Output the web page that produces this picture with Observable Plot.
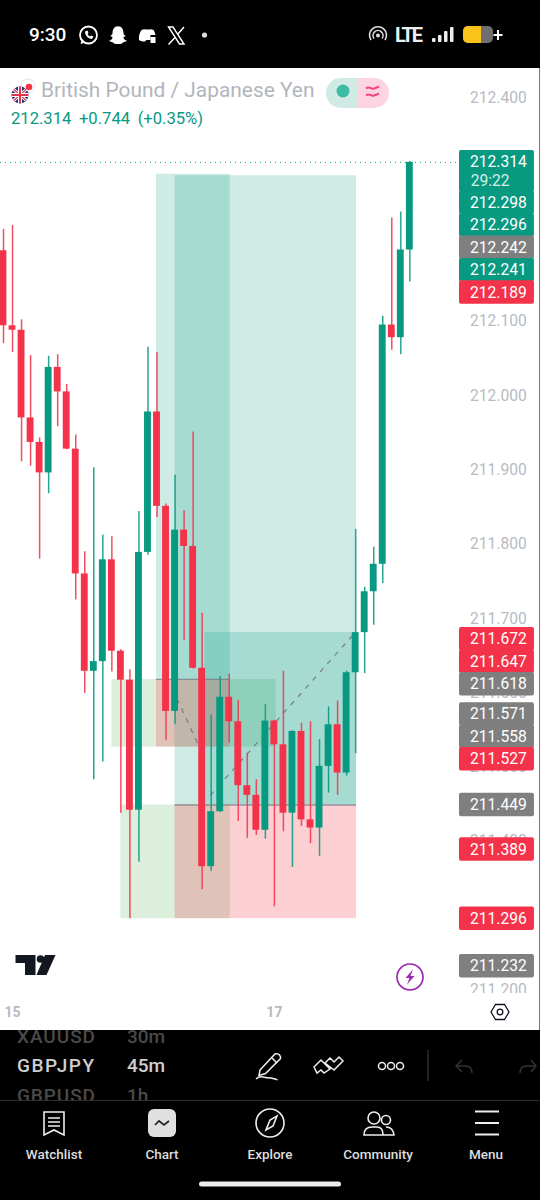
<!DOCTYPE html>
<html>
<head>
<meta charset="utf-8">
<script src="https://cdn.jsdelivr.net/npm/d3@7"></script>
<script src="https://cdn.jsdelivr.net/npm/@observablehq/plot@0.6"></script>
<style>
html,body{margin:0;padding:0;background:#000}
#page{position:relative;width:540px;height:1200px;overflow:hidden;background:#000;font-family:Roboto,sans-serif}
#chart{position:absolute;left:0;top:68px;width:540px;height:962px;background:#fff}
#chart svg{display:block}
.abs{position:absolute}
#title{left:41px;top:76px;font-size:20.9px;line-height:28px;color:#b2b5be;white-space:nowrap}
#quote{left:11px;top:109px;font-size:16.6px;line-height:20px;color:#089981;white-space:nowrap;word-spacing:3.500px}
</style>
</head>
<body>
<div id="page">
  <svg class="abs" style="left:0;top:0" width="540" height="68" viewBox="0 0 540 68" font-family="Roboto">
    <text x="29" y="41" fill="#fff" font-size="19" font-weight="500">9:30</text>
    <circle cx="88.500" cy="35" r="8.500" fill="none" stroke="#fff" stroke-width="1.800"/>
    <path d="M80.500 44l1.500-5 3.500 3.500z" fill="#fff"/>
    <path d="M85 31.500c0 4 3 7 7 7.500l1.500-2.500-2.500-1-1 1c-1-.5-2-1.500-2.500-2.500l1-1-1-2.500z" fill="#fff"/>
    <path d="M109 40.500c2.500 0 3.500-2 3.500-3.500-1-.5-2.500-1-2-1.800 1.200 0 2-.5 2-2 0-3.500 1.500-7 5.500-7s5.500 3.500 5.500 7c0 1.500.8 2 2 2 .5.8-1 1.300-2 1.800 0 1.500 1 3.500 3.500 3.500-1 1.500-2.500 1-4 2-1 1-2 1.500-5 1.500s-4-.5-5-1.500c-1.500-1-3-.5-4-2z" fill="#fff"/>
    <path d="M139 40c-.5-4 .5-7 2.500-10 2-.8 3-1 3.500-.5h5c.5-.5 1.500-.3 3.500.5 1 1.500 1.500 3 2 5h-5v5h-4l-1.500 1.500c-2.500 0-4.500-.5-6-1.500z" fill="#fff"/>
    <rect x="150.500" y="37" width="5" height="6" fill="#fff"/>
    <path d="M168.500 27h4.500l11 17h-4.500z" fill="none" stroke="#fff" stroke-width="1.400"/>
    <path d="M184 27l-6.500 7.500M175 37.500l-6.500 7" stroke="#fff" stroke-width="1.500" fill="none"/>
    <circle cx="204.500" cy="35" r="2.600" fill="#ddd"/>
    <path d="M371 40a8.500 8.500 0 1 1 14 0M374 38.500a5 5 0 1 1 8 0" fill="none" stroke="#ddd" stroke-width="1.600"/>
    <circle cx="378" cy="35.500" r="2" fill="#ddd"/>
    <text x="395" y="42" fill="#eee" font-size="20" font-weight="700" textLength="28">LTE</text>
    <g fill="#eee"><rect x="432" y="38" width="3.500" height="4" rx="1"/><rect x="438" y="35" width="3.500" height="7" rx="1"/><rect x="444" y="31" width="3.500" height="11" rx="1"/><rect x="450" y="27" width="3.500" height="15" rx="1"/></g>
    <rect x="463" y="26" width="30" height="17" rx="5" fill="#6f6f6f"/>
    <path d="M468 26h13v17h-13a5 5 0 0 1-5-5v-7a5 5 0 0 1 5-5z" fill="#fbc21c"/>
    <path d="M498 30v10M493.500 35h9" stroke="#fff" stroke-width="2"/>
  </svg>

  <div id="chart"></div>

  <div class="abs" id="title">British Pound / Japanese Yen</div>
  <div class="abs" id="quote">212.314 +0.744 (+0.35%)</div>

  <svg class="abs" style="left:0;top:68px" width="540" height="962" viewBox="0 68 540 962" font-family="Roboto" pointer-events="none">
    <circle cx="28" cy="86" r="7" fill="#fff" stroke="#dfe3f0" stroke-width="1"/>
    <circle cx="29" cy="87" r="3.300" fill="#f23645"/>
    <clipPath id="fl"><circle cx="20" cy="95" r="8.500"/></clipPath>
    <g clip-path="url(#fl)">
      <rect x="11" y="86" width="18" height="18" fill="#27357e"/>
      <path d="M11 87l18 16M29 87l-18 16" stroke="#fff" stroke-width="3"/>
      <path d="M11 87l18 16M29 87l-18 16" stroke="#e0344a" stroke-width="1.200"/>
      <path d="M20 86v18M11 95h18" stroke="#fff" stroke-width="4"/>
      <path d="M20 86v18M11 95h18" stroke="#e0344a" stroke-width="2"/>
    </g>
    <path d="M341 78h17v30h-17a15 15 0 0 1 0-30z" fill="#d0ebe6"/>
    <path d="M358 78h16a15 15 0 0 1 0 30h-16z" fill="#fdd5e2"/>
    <circle cx="343" cy="91" r="6.500" fill="#3dbba5"/>
    <path d="M366 88.500c3-3 5 1 8 0s3-1 5-2M366 95.500c3-3 5 1 8 0s3-1 5-2" stroke="#f2457f" stroke-width="2" fill="none"/>
    <path d="M15.500 955h20v20h-10.500v-12h-9.500z" fill="#131722"/>
    <circle cx="40.500" cy="959" r="3.800" fill="#131722"/>
    <path d="M45 955h10.500l-9 20h-10z" fill="#131722"/>
    <circle cx="410" cy="977" r="13" fill="none" stroke="#9c27b0" stroke-width="1.700"/>
    <path d="M413 969.500l-7.500 8.500h4l-2.500 6.500 7.500-8.500h-4z" fill="#9c27b0"/>
    <path d="M491 1012l4.500-7.500h9l4.500 7.500-4.500 7.500h-9z" fill="none" stroke="#131722" stroke-width="1.300"/>
    <circle cx="500" cy="1012" r="2.800" fill="none" stroke="#131722" stroke-width="1.300"/>
    <rect x="539" y="68" width="1" height="962" fill="#777"/>
  </svg>

  <svg class="abs" style="left:0;top:1030px" width="540" height="170" viewBox="0 1030 540 170" font-family="Roboto">
    <clipPath id="lst"><rect x="0" y="1030" width="240" height="70"/></clipPath>
    <g clip-path="url(#lst)" font-size="19" font-weight="500">
      <text x="17" y="1043" fill="#4a4a4a" textLength="78">XAUUSD</text><text x="127" y="1043" fill="#4a4a4a">30m</text>
      <text x="17" y="1072" fill="#cfcfcf" textLength="77">GBPJPY</text><text x="127" y="1072" fill="#cfcfcf">45m</text>
      <text x="17" y="1102" fill="#4a4a4a" textLength="78">GBPUSD</text><text x="127" y="1102" fill="#4a4a4a">1h</text>
    </g>
    <g fill="none" stroke="#eee" stroke-width="1.500">
      <path d="M260 1070l15-16q3-1 4.500 1t1 3.500l-15 15-6.500 2z"/>
      <path d="M272 1058l5 5"/>
      <path d="M256 1079q3-3 7-2t8 1q5 1 6.500 2"/>
      <path d="M314 1067l7-7 9 9 -6 4-3-3-4 3zM325 1063l5-5 4 4 5-5 4 4-9 9z" />
      <circle cx="382" cy="1066" r="3.500"/><circle cx="391" cy="1066" r="3.500"/><circle cx="400" cy="1066" r="3.500"/>
      <path d="M428 1050v31" stroke="#2e2e2e"/>
      <path d="M472 1073q0-7-7-7h-8M462 1060l-6 6 6 6" stroke="#333"/>
      <path d="M520 1073q0-7 7-7h8M531 1060l5 6-5 6" stroke="#333"/>
    </g>
    <rect x="0" y="1100" width="540" height="1" fill="#2e2e2e"/>
    <g fill="none" stroke="#eee" stroke-width="1.600">
      <path d="M44 1112h20v23l-10-5-10 5z"/><path d="M48 1118h12M48 1122h12M48 1126h12"/>
      <circle cx="270" cy="1123" r="14"/>
      <path d="M277 1116l-4 10-7 4 4-10z"/>
      <circle cx="374" cy="1118" r="6"/><circle cx="386" cy="1120" r="4.500"/>
      <path d="M364 1135q0-8 8-8h5q6 0 6 8zM386 1127q7 0 8 8h-11"/>
      <path d="M475 1111.500h24M475 1123h24M475 1134.500h24" stroke-width="2.200"/>
    </g>
    <rect x="148" y="1109" width="28" height="28" rx="6" fill="#e0e0e0"/>
    <path d="M155 1125l4-4 5 4 5-4" fill="none" stroke="#222" stroke-width="1.700"/>
    <g fill="#ddd" font-size="13.500" font-weight="500" text-anchor="middle">
      <text x="54" y="1159">Watchlist</text><text x="162" y="1159">Chart</text><text x="270" y="1159">Explore</text><text x="378" y="1159">Community</text><text x="486" y="1159">Menu</text>
    </g>
    <rect x="199" y="1181.500" width="142" height="5" rx="2.500" fill="#eee"/>
  </svg>
</div>
<script>
// Candles, left to right
const opens = [212.195,212.094,212.088,211.970,211.937,211.896,212.038,212.005,211.928,211.760,211.629,211.642,211.779,211.656,211.617,211.442,211.789,211.978,211.851,211.575,211.819,211.797,211.633,211.366,211.440,211.594,211.561,211.475,211.462,211.415,211.562,211.530,211.438,211.548,211.429,211.418,211.501,211.557,211.492,211.627,211.681,211.736,211.773,212.095,212.078,212.196];
const closes = [212.094,212.088,211.970,211.937,211.896,212.038,212.005,211.928,211.760,211.629,211.642,211.779,211.656,211.617,211.442,211.789,211.978,211.851,211.575,211.819,211.797,211.633,211.366,211.440,211.594,211.561,211.475,211.462,211.415,211.562,211.530,211.438,211.548,211.429,211.418,211.501,211.557,211.492,211.627,211.681,211.736,211.773,212.095,212.078,212.196,212.314];
const highs = [212.224,212.229,212.102,212.054,211.943,212.053,212.055,212.015,211.947,211.790,211.903,211.812,211.810,211.658,211.631,211.844,212.065,212.058,211.854,211.893,211.845,211.951,211.707,211.570,211.622,211.625,211.590,211.518,211.483,211.584,211.563,211.629,211.549,211.559,211.561,211.537,211.581,211.589,211.629,211.820,211.742,211.796,212.107,212.239,212.247,212.315];
const lows = [212.070,212.058,211.911,211.905,211.780,211.868,211.958,211.927,211.725,211.599,211.483,211.507,211.628,211.438,211.296,211.372,211.785,211.836,211.536,211.557,211.670,211.632,211.335,211.360,211.439,211.532,211.427,211.404,211.408,211.403,211.312,211.413,211.365,211.420,211.397,211.380,211.465,211.462,211.488,211.518,211.626,211.691,211.747,212.061,212.055,212.153];

// Drawn zones: [from candle, to candle, upper price, lower price]
const tealZones = [[16.95,25.1,212.298,211.618],[19,39.1,212.296,211.449],[22.3,39.1,211.681,211.449]];
const pinkZones = [[16.95,25.1,211.618,211.527],[19,39.1,211.449,211.296]];
const greenZones = [[12,30.2,211.618,211.527],[13,25.1,211.449,211.296]];
const edgeLines = [[16.95,25.1,211.618],[19,39.1,211.449]];
// Dashed trend lines: [from candle, price, to candle, price]
const trendLines = [[18.7,211.606,21.6,211.529],[22.9,211.462,38.65,211.677]];

// Price axis
const priceTicks = [211.2,211.3,211.4,211.5,211.6,211.7,211.8,211.9,212.0,212.1,212.2,212.3,212.4];
const lastPrice = 212.314;
const countdown = "29:22";
const tagPrices = [212.314,212.298,212.296,212.242,212.241,212.189,211.672,211.647,211.618,211.571,211.558,211.527,211.449,211.389,211.296,211.232];
const tagKinds = ["up","up","up","line","up","down","down","down","line","line","line","down","line","down","down","line"];
// Time axis
const timeTicks = [1,30];
const timeLabels = ["15","17"];

const UP = "#089981", DOWN = "#f4334a", GREY = "#7f7f7f", AXIS = "#b7bac2";
const tagFill = {up: UP, down: DOWN, line: GREY};

const candles = opens.map((open, i) => ({i, open, close: closes[i], high: highs[i], low: lows[i], up: closes[i] >= open}));

// Price tags push each other down so they never overlap
const priceDomain = [211.1953, 212.4403];
const rowGap = 0.0302, firstRowGap = 0.0545, half = 0.0158;
const tags = [];
tagPrices.forEach((price, i) => {
  let at = price;
  if (i > 0) at = Math.min(price, tags[i - 1].at - (i === 1 ? firstRowGap : rowGap));
  tags.push({price, at, kind: tagKinds[i], first: i === 0});
});

const tagLeft = 50.5, tagRight = 58.8, tagText = 57.95;
const zoneOpts = (fill, fillOpacity = 0.2) => ({x1: d => d[0], x2: d => d[1], y1: d => d[2], y2: d => d[3], fill, fillOpacity});

const plot = Plot.plot({
  width: 540,
  height: 962,
  marginTop: 0, marginRight: 0, marginBottom: 37, marginLeft: 0,
  style: {background: "#fff", fontFamily: "Roboto, sans-serif"},
  x: {type: "linear", domain: [-0.332, 59.47], range: [0, 540]},
  y: {type: "linear", domain: priceDomain, axis: null},
  marks: [
    Plot.rect(greenZones, zoneOpts("#4caf50")),
    Plot.rect(tealZones, zoneOpts(UP)),
    Plot.rect(pinkZones, zoneOpts("#f23645", 0.24)),
    Plot.ruleY(edgeLines, {x1: d => d[0], x2: d => d[1], y: d => d[2], stroke: "#787b86", strokeOpacity: 0.75, strokeWidth: 1.3}),
    Plot.link(trendLines, {x1: d => d[0], y1: d => d[1], x2: d => d[2], y2: d => d[3], stroke: "#787b86", strokeWidth: 1.2, strokeDasharray: "5,6"}),
    Plot.ruleY([lastPrice], {x1: -0.332, x2: tagLeft, stroke: UP, strokeWidth: 1, strokeDasharray: "1,4"}),
    Plot.ruleX(candles, {x: "i", y1: "low", y2: "high", stroke: d => d.up ? UP : DOWN, strokeWidth: 1.5, strokeOpacity: 0.88}),
    Plot.rect(candles, {x1: d => d.i - 0.38, x2: d => d.i + 0.38, y1: "open", y2: "close", fill: d => d.up ? UP : DOWN}),
    Plot.text(priceTicks, {x: tagText, y: d => d, text: d => d.toFixed(3), textAnchor: "end", fill: AXIS, fontSize: 15.6, clip: true}),
    Plot.rect(tags, {x1: tagLeft, x2: tagRight, y1: d => d.at + half, y2: d => d.first ? d.at - half - firstRowGap + rowGap : d.at - half, fill: d => tagFill[d.kind], rx: 2}),
    Plot.text(tags, {x: tagText, y: "at", text: d => d.price.toFixed(3), textAnchor: "end", fill: "#fff", fontSize: 15.6}),
    Plot.text(tags.filter(d => d.first), {x: tagText - 1.9, y: "at", dy: 19, text: () => countdown, textAnchor: "end", fill: "#d5eee9", fontSize: 15.6}),
    Plot.axisX({ticks: timeTicks, tickFormat: d => timeLabels[timeTicks.indexOf(d)], tickSize: 0, tickPadding: 14, fontSize: 14, fontWeight: 700, fill: AXIS, label: null})
  ]
});
document.getElementById("chart").appendChild(plot);
</script>
</body>
</html>
